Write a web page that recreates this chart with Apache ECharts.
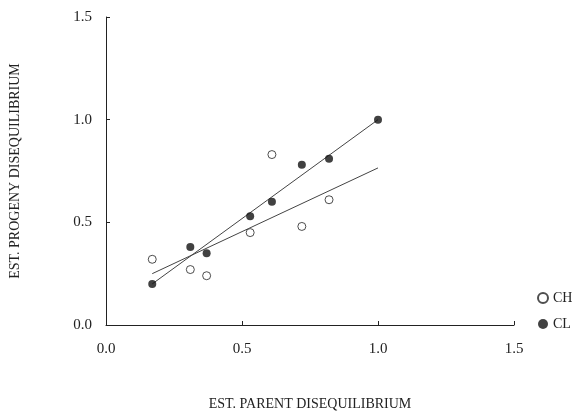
<!DOCTYPE html>
<html>
<head>
<meta charset="utf-8">
<script src="https://cdn.jsdelivr.net/npm/echarts@6/dist/echarts.min.js"></script>
<style>
  html, body { margin: 0; padding: 0; background: #fff; }
  #chart { width: 578px; height: 413px; }
</style>
</head>
<body>
<div id="chart"></div>
<script>
// parent disequilibrium (x) and progeny disequilibrium (y)
const chX = [0.17, 0.31, 0.37, 0.53, 0.61, 0.72, 0.82]
const chY = [0.32, 0.27, 0.24, 0.45, 0.83, 0.48, 0.61]
const clX = [0.17, 0.31, 0.37, 0.53, 0.61, 0.72, 0.82, 1.0]
const clY = [0.20, 0.38, 0.35, 0.53, 0.60, 0.78, 0.81, 1.0]
// fitted regression lines, endpoints
const chFit = [[0.17, 0.25], [1.0, 0.765]]
const clFit = [[0.17, 0.20], [1.0, 1.0]]
const ticks = [0.0, 0.5, 1.0, 1.5]

const ink = '#222'
const font = 'Liberation Serif, DejaVu Serif, serif'

const zip = (xs, ys) => xs.map((x, i) => [x, ys[i]])

const chart = echarts.init(document.getElementById('chart'))

const axisCommon = {
  type: 'value',
  min: ticks[0],
  max: ticks[ticks.length - 1],
  interval: 0.5,
  splitLine: { show: false },
  axisLine: { lineStyle: { color: ink, width: 1 } },
  axisTick: { inside: true, length: 4, lineStyle: { color: ink } },
  axisLabel: {
    color: ink, fontFamily: font, fontSize: 15,
    formatter: v => v.toFixed(1)
  },
  nameLocation: 'middle',
  nameTextStyle: { color: ink, fontFamily: font, fontSize: 14 }
}

chart.setOption({
  animation: false,
  backgroundColor: '#fff',
  grid: { left: 106, right: 64, top: 17, bottom: 88, outerBoundsMode: 'none' },
  xAxis: Object.assign({}, axisCommon, {
    name: 'EST. PARENT DISEQUILIBRIUM',
    nameGap: 72,
    axisLabel: Object.assign({}, axisCommon.axisLabel, { margin: 17 })
  }),
  yAxis: Object.assign({}, axisCommon, {
    name: 'EST. PROGENY DISEQUILIBRIUM',
    nameGap: 84,
    axisLabel: Object.assign({}, axisCommon.axisLabel, { margin: 14 })
  }),
  legend: {
    orient: 'vertical',
    left: 532,
    top: 286,
    itemWidth: 10,
    itemHeight: 10,
    itemGap: 12,
    data: [
      { name: 'CH', icon: 'circle' },
      { name: 'CL', icon: 'circle' }
    ],
    textStyle: { color: ink, fontFamily: font, fontSize: 14 }
  },
  series: [
    {
      name: 'CH fit', type: 'line', data: chFit, symbol: 'none',
      lineStyle: { color: '#444', width: 1 }, z: 1
    },
    {
      name: 'CL fit', type: 'line', data: clFit, symbol: 'none',
      lineStyle: { color: '#444', width: 1 }, z: 1
    },
    {
      name: 'CH', type: 'scatter', data: zip(chX, chY), symbolSize: 8,
      itemStyle: { color: '#fff', borderColor: ink, borderWidth: 1 }, z: 3
    },
    {
      name: 'CL', type: 'scatter', data: zip(clX, clY), symbolSize: 8,
      itemStyle: { color: '#111' }, z: 3
    }
  ]
})
</script>
</body>
</html>
